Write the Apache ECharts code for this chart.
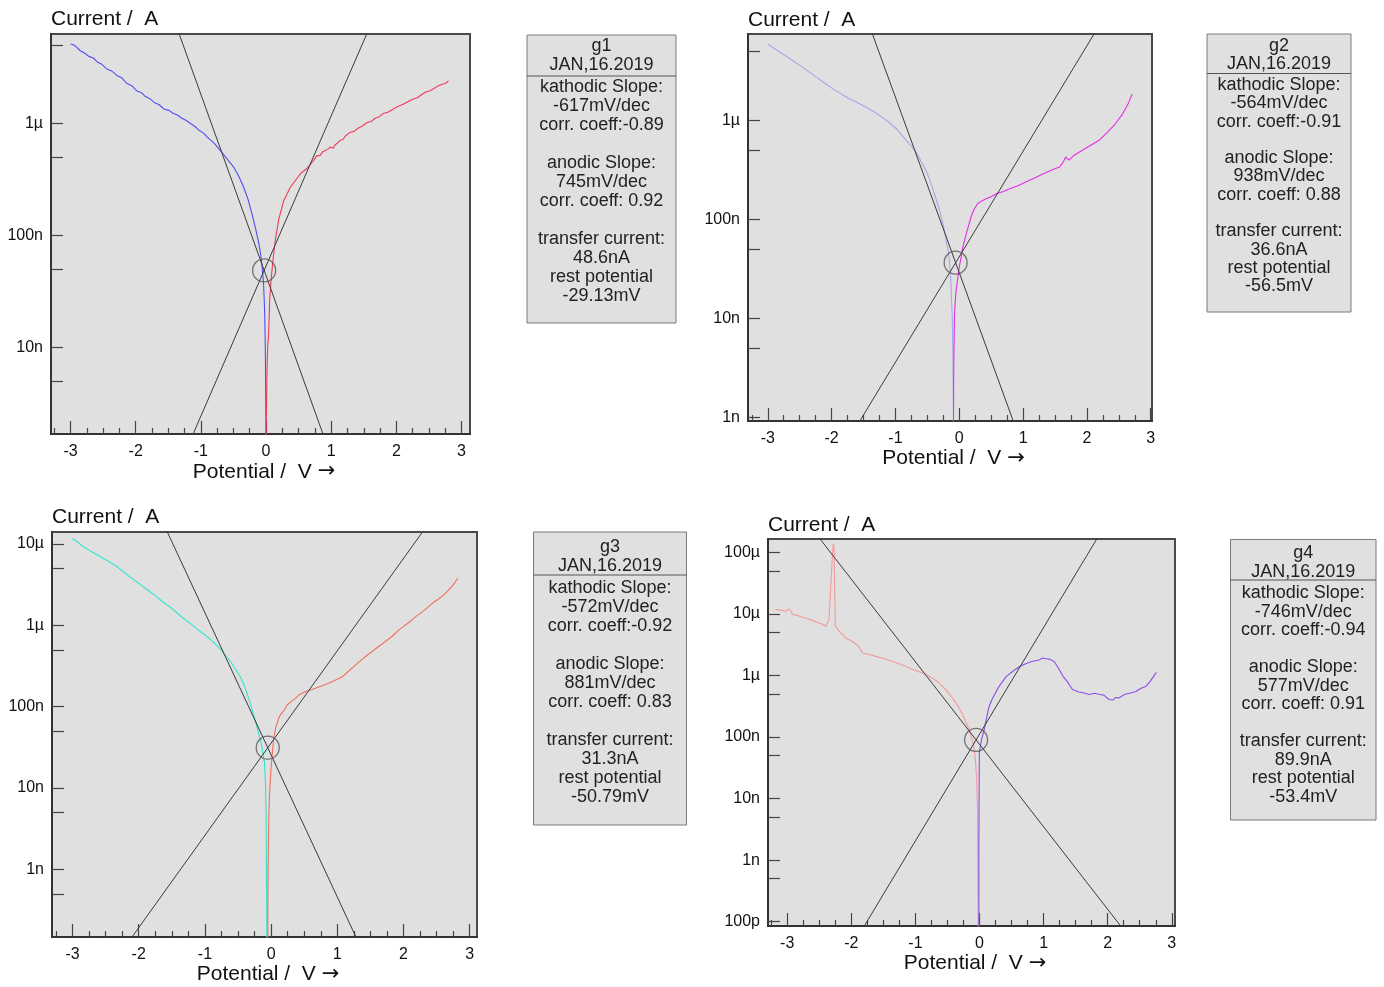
<!DOCTYPE html>
<html><head><meta charset="utf-8">
<script src="https://cdn.jsdelivr.net/npm/echarts@6/dist/echarts.min.js"></script>
<style>html,body{margin:0;padding:0;background:#fff}#c{width:1384px;height:987px}</style>
</head><body><div id="c"></div>
<script>
// ---------- tick labels ----------
const xTickValues = [-3, -2, -1, 0, 1, 2, 3];
const yLabelExponents = [-4, -5, -6, -7, -8, -9, -10];
const yLabelTexts = ['100µ', '10µ', '1µ', '100n', '10n', '1n', '100p'];

// ---------- axis ranges (potential in V, current in A) ----------
const potentialRanges = [[-3.30, 3.13], [-3.31, 3.02], [-3.31, 3.11], [-3.30, 3.05]];
const currentRanges = [[1.675e-9, 6.31e-6], [9.18e-10, 7.50e-6], [1.472e-10, 1.406e-5], [8.51e-11, 1.644e-4]];

// ---------- fit results (rest potential V, transfer current A) ----------
const restPotentials = [-0.02913, -0.0565, -0.05079, -0.0534];
const transferCurrents = [48.6e-9, 36.6e-9, 31.3e-9, 89.9e-9];

// ---------- Tafel lines [potential V, current A] ----------
const g1KathLine = [[-1.456, 1e-5], [1.012, 1e-9]];
const g1AnodLine = [[-1.286, 1e-9], [1.694, 1e-5]];
const g2KathLine = [[-1.431, 1e-5], [1.107, 3.16e-10]];
const g2AnodLine = [[-1.992, 3.16e-10], [2.229, 1e-5]];
const g3KathLine = [[-1.769, 3.16e-5], [1.377, 1e-10]];
const g3AnodLine = [[-2.249, 1e-10], [2.596, 3.16e-5]];
const g4KathLine = [[-2.699, 3.16e-4], [2.523, 3.16e-11]];
const g4AnodLine = [[-2.046, 3.16e-11], [1.993, 3.16e-4]];

// ---------- measured curves [potential V, current A] ----------
const g1Kath = [[-3.00,5.13e-6],[-2.96,5.05e-6],[-2.92,4.90e-6],[-2.85,4.47e-6],[-2.78,4.25e-6],[-2.72,3.98e-6],[-2.65,3.85e-6],[-2.59,3.55e-6],[-2.52,3.38e-6],[-2.45,3.09e-6],[-2.37,2.95e-6],[-2.29,2.69e-6],[-2.21,2.55e-6],[-2.14,2.29e-6],[-2.06,2.18e-6],[-1.98,1.95e-6],[-1.91,1.88e-6],[-1.85,1.74e-6],[-1.78,1.66e-6],[-1.72,1.55e-6],[-1.64,1.47e-6],[-1.57,1.35e-6],[-1.49,1.31e-6],[-1.42,1.23e-6],[-1.36,1.19e-6],[-1.30,1.12e-6],[-1.23,1.07e-6],[-1.16,1.0e-6],[-1.10,9.5e-7],[-1.03,8.71e-7],[-0.96,8.2e-7],[-0.905,7.59e-7],[-0.85,7.1e-7],[-0.79,6.61e-7],[-0.73,6.0e-7],[-0.675,5.50e-7],[-0.58,4.68e-7],[-0.496,4.07e-7],[-0.42,3.39e-7],[-0.343,2.69e-7],[-0.275,2.09e-7],[-0.215,1.55e-7],[-0.16,1.15e-7],[-0.112,8.51e-8],[-0.08,6.61e-8],[-0.061,5.25e-8],[-0.045,4.17e-8],[-0.036,3.47e-8],[-0.025,2.40e-8],[-0.02,1.86e-8],[-0.014,1.26e-8],[-0.010,8.32e-9],[-0.007,5.01e-9],[-0.005,3.39e-9],[-0.002,2.24e-9],[0.0,1.6e-9]];
const g1Anod = [[0.0,1.6e-9],[0.008,3.16e-9],[0.015,6.31e-9],[0.025,1.0e-8],[0.04,1.33e-8],[0.056,2.63e-8],[0.077,3.98e-8],[0.107,6.03e-8],[0.143,9.12e-8],[0.194,1.38e-7],[0.271,2.04e-7],[0.373,2.69e-7],[0.45,3.09e-7],[0.527,3.55e-7],[0.63,3.98e-7],[0.731,4.68e-7],[0.76,4.75e-7],[0.78,5.13e-7],[0.833,5.19e-7],[0.87,5.6e-7],[0.90,5.50e-7],[0.95,5.9e-7],[0.987,6.17e-7],[1.03,6.0e-7],[1.06,6.46e-7],[1.10,6.7e-7],[1.14,7.08e-7],[1.18,7.2e-7],[1.22,7.76e-7],[1.29,8.32e-7],[1.35,8.5e-7],[1.42,9.12e-7],[1.48,9.5e-7],[1.55,1.02e-6],[1.61,1.04e-6],[1.68,1.12e-6],[1.74,1.15e-6],[1.80,1.23e-6],[1.87,1.26e-6],[1.93,1.32e-6],[2.00,1.40e-6],[2.06,1.45e-6],[2.12,1.50e-6],[2.19,1.58e-6],[2.25,1.65e-6],[2.32,1.70e-6],[2.38,1.80e-6],[2.45,1.91e-6],[2.51,1.95e-6],[2.57,2.04e-6],[2.63,2.15e-6],[2.70,2.24e-6],[2.75,2.28e-6],[2.80,2.40e-6]];

const g2Kath = [[-3.00,5.94e-6],[-2.88,5.25e-6],[-2.76,4.68e-6],[-2.63,4.12e-6],[-2.50,3.63e-6],[-2.37,3.16e-6],[-2.24,2.75e-6],[-2.11,2.40e-6],[-1.98,2.09e-6],[-1.85,1.86e-6],[-1.72,1.66e-6],[-1.59,1.51e-6],[-1.46,1.36e-6],[-1.33,1.22e-6],[-1.20,1.07e-6],[-1.10,9.55e-7],[-0.99,8.32e-7],[-0.91,7.24e-7],[-0.83,6.31e-7],[-0.75,5.50e-7],[-0.675,4.79e-7],[-0.60,3.89e-7],[-0.52,3.13e-7],[-0.45,2.40e-7],[-0.39,1.82e-7],[-0.33,1.38e-7],[-0.28,1.05e-7],[-0.24,8.13e-8],[-0.205,6.17e-8],[-0.17,4.68e-8],[-0.15,3.55e-8],[-0.13,2.24e-8],[-0.12,1.51e-8],[-0.11,1.02e-8],[-0.10,4.79e-9],[-0.095,2.0e-9],[-0.09,7.9e-10]];
const g2Anod = [[-0.09,7.9e-10],[-0.088,2.0e-9],[-0.086,3.24e-9],[-0.08,6.31e-9],[-0.076,1.02e-8],[-0.065,1.41e-8],[-0.05,1.91e-8],[-0.025,2.51e-8],[0.0,3.31e-8],[0.03,4.17e-8],[0.055,5.25e-8],[0.11,7.16e-8],[0.185,1.06e-7],[0.23,1.26e-7],[0.29,1.45e-7],[0.36,1.55e-7],[0.42,1.62e-7],[0.50,1.70e-7],[0.58,1.82e-7],[0.68,1.91e-7],[0.79,2.04e-7],[0.92,2.19e-7],[1.05,2.40e-7],[1.18,2.63e-7],[1.31,2.88e-7],[1.45,3.16e-7],[1.57,3.39e-7],[1.62,3.72e-7],[1.67,4.27e-7],[1.72,3.98e-7],[1.80,4.47e-7],[1.93,5.01e-7],[2.06,5.62e-7],[2.19,6.31e-7],[2.32,7.59e-7],[2.45,9.33e-7],[2.56,1.17e-6],[2.64,1.45e-6],[2.71,1.86e-6]];

const g3Kath = [[-3.00,1.17e-5],[-2.92,1.05e-5],[-2.84,9.33e-6],[-2.72,8.13e-6],[-2.59,7.08e-6],[-2.47,6.17e-6],[-2.34,5.37e-6],[-2.14,3.98e-6],[-2.04,3.47e-6],[-1.94,3.02e-6],[-1.84,2.63e-6],[-1.74,2.29e-6],[-1.64,1.95e-6],[-1.535,1.70e-6],[-1.43,1.45e-6],[-1.33,1.23e-6],[-1.20,1.02e-6],[-1.08,8.51e-7],[-0.98,7.41e-7],[-0.88,6.31e-7],[-0.78,5.25e-7],[-0.68,4.17e-7],[-0.60,3.47e-7],[-0.53,2.85e-7],[-0.46,2.29e-7],[-0.40,1.78e-7],[-0.35,1.35e-7],[-0.30,1.0e-7],[-0.23,6.31e-8],[-0.15,3.55e-8],[-0.10,2.04e-8],[-0.085,1.15e-8],[-0.075,4.47e-9],[-0.07,1.10e-9],[-0.065,1.41e-10]];
const g3Anod = [[-0.05,1.41e-10],[-0.048,5.0e-10],[-0.045,1.10e-9],[-0.035,4.47e-9],[-0.025,7.94e-9],[-0.015,1.15e-8],[0.0,1.78e-8],[0.015,2.45e-8],[0.035,3.89e-8],[0.055,4.79e-8],[0.075,5.75e-8],[0.10,6.61e-8],[0.126,7.59e-8],[0.16,8.32e-8],[0.20,9.12e-8],[0.24,1.05e-7],[0.277,1.11e-7],[0.31,1.17e-7],[0.35,1.23e-7],[0.43,1.41e-7],[0.53,1.55e-7],[0.60,1.60e-7],[0.68,1.70e-7],[0.78,1.82e-7],[0.88,1.95e-7],[0.98,2.14e-7],[1.08,2.34e-7],[1.16,2.69e-7],[1.23,3.02e-7],[1.33,3.55e-7],[1.43,4.17e-7],[1.56,5.01e-7],[1.69,6.03e-7],[1.82,7.24e-7],[1.94,8.91e-7],[2.07,1.07e-6],[2.19,1.29e-6],[2.32,1.55e-6],[2.44,1.88e-6],[2.54,2.14e-6],[2.64,2.51e-6],[2.72,2.95e-6],[2.77,3.31e-6],[2.82,3.80e-6]];

const g4Kath = [[-3.18,1.17e-5],[-3.10,1.15e-5],[-3.02,1.10e-5],[-2.98,1.20e-5],[-2.945,1.12e-5],[-2.92,9.77e-6],[-2.85,9.55e-6],[-2.78,8.91e-6],[-2.71,8.51e-6],[-2.60,7.76e-6],[-2.50,7.08e-6],[-2.45,6.76e-6],[-2.42,7.24e-6],[-2.40,6.31e-6],[-2.37,6.31e-6],[-2.35,7.94e-6],[-2.32,2.82e-5],[-2.29,1.10e-4],[-2.28,1.38e-4],[-2.27,1.26e-4],[-2.26,2.51e-5],[-2.25,6.31e-6],[-2.17,5.01e-6],[-2.09,4.07e-6],[-1.98,3.55e-6],[-1.88,2.95e-6],[-1.83,2.34e-6],[-1.72,2.19e-6],[-1.62,2.04e-6],[-1.49,1.86e-6],[-1.36,1.70e-6],[-1.20,1.48e-6],[-1.05,1.26e-6],[-0.84,1.05e-6],[-0.73,8.91e-7],[-0.63,7.59e-7],[-0.52,5.75e-7],[-0.42,4.32e-7],[-0.34,3.24e-7],[-0.265,2.32e-7],[-0.16,1.32e-7],[-0.10,8.04e-8],[-0.068,4.90e-8],[-0.047,2.29e-8],[-0.031,6.61e-9],[-0.026,5.50e-10],[-0.02,7.9e-11]];
const g4Anod = [[-0.01,7.9e-11],[-0.01,1.91e-9],[-0.005,2.29e-8],[-0.003,5.62e-8],[0.03,8.91e-8],[0.073,1.32e-7],[0.11,2.04e-7],[0.15,3.13e-7],[0.20,4.17e-7],[0.26,5.50e-7],[0.33,7.24e-7],[0.416,9.55e-7],[0.52,1.17e-6],[0.62,1.38e-6],[0.72,1.55e-6],[0.82,1.68e-6],[0.93,1.78e-6],[0.98,1.91e-6],[1.04,1.86e-6],[1.10,1.82e-6],[1.165,1.68e-6],[1.23,1.32e-6],[1.30,9.77e-7],[1.37,7.94e-7],[1.45,5.89e-7],[1.55,5.37e-7],[1.65,5.13e-7],[1.71,4.90e-7],[1.80,5.13e-7],[1.87,4.90e-7],[1.94,4.79e-7],[2.02,4.07e-7],[2.08,3.98e-7],[2.12,4.37e-7],[2.18,4.32e-7],[2.26,4.90e-7],[2.34,5.13e-7],[2.44,5.50e-7],[2.52,6.17e-7],[2.60,6.68e-7],[2.66,7.94e-7],[2.70,9.12e-7],[2.76,1.12e-6]];

// ---------- info box texts ----------
const g1Info = ['g1','JAN,16.2019','kathodic Slope:','-617mV/dec','corr. coeff:-0.89','','anodic Slope:','745mV/dec','corr. coeff: 0.92','','transfer current:','48.6nA','rest potential','-29.13mV'];
const g2Info = ['g2','JAN,16.2019','kathodic Slope:','-564mV/dec','corr. coeff:-0.91','','anodic Slope:','938mV/dec','corr. coeff: 0.88','','transfer current:','36.6nA','rest potential','-56.5mV'];
const g3Info = ['g3','JAN,16.2019','kathodic Slope:','-572mV/dec','corr. coeff:-0.92','','anodic Slope:','881mV/dec','corr. coeff: 0.83','','transfer current:','31.3nA','rest potential','-50.79mV'];
const g4Info = ['g4','JAN,16.2019','kathodic Slope:','-746mV/dec','corr. coeff:-0.94','','anodic Slope:','577mV/dec','corr. coeff: 0.91','','transfer current:','89.9nA','rest potential','-53.4mV'];

// ---------- layout / style (not data) ----------
const FONT = '"Liberation Sans", Arial, sans-serif';
const gridBoxes = [
  {left: 51, top: 34, width: 419, height: 400, nameGapX: 38, nameGapY: 15},
  {left: 748, top: 34, width: 404, height: 387, nameGapX: 34, nameGapY: 14},
  {left: 52, top: 532, width: 425, height: 405, nameGapX: 36, nameGapY: 15},
  {left: 768, top: 539, width: 407, height: 387, nameGapX: 37, nameGapY: 14}
];
const infoBoxes = [
  {x: 527, y: 35, w: 149, h: 288, sep: 76, t1: 46, t2: 65.5, b0: 86.7, step: 19.05},
  {x: 1207, y: 34, w: 144, h: 278, sep: 73.5, t1: 46.5, t2: 64, b0: 85, step: 18.3},
  {x: 533.5, y: 532, w: 153, h: 293, sep: 575, t1: 547.5, t2: 566.5, b0: 587.7, step: 19.0},
  {x: 1230.5, y: 539.5, w: 145.5, h: 280.5, sep: 580, t1: 553.5, t2: 572.5, b0: 593.3, step: 18.5}
];
const curveColors = [
  ['#4f4ff2', '#f03a58'],
  ['#a6a6ea', '#e42ee4'],
  ['#2ee6cc', '#f2705e'],
  ['#f49a9a', '#8c4fe6']
];

const kathCurves = [g1Kath, g2Kath, g3Kath, g4Kath];
const anodCurves = [g1Anod, g2Anod, g3Anod, g4Anod];
const kathLines = [g1KathLine, g2KathLine, g3KathLine, g4KathLine];
const anodLines = [g1AnodLine, g2AnodLine, g3AnodLine, g4AnodLine];
const infos = [g1Info, g2Info, g3Info, g4Info];

const toLog = arr => arr.map(p => [p[0], Math.log10(p[1])]);
const labelFor = v => {
  const k = yLabelExponents.indexOf(Math.round(v));
  return k >= 0 ? yLabelTexts[k] : '';
};

const grids = [], xAxes = [], yAxes = [], series = [];
gridBoxes.forEach((g, i) => {
  grids.push({left: g.left, top: g.top, width: g.width, height: g.height, show: true,
    backgroundColor: '#e0e0e0', borderColor: '#4a4a4a', borderWidth: 2, containLabel: false});
  const [xmin, xmax] = potentialRanges[i];
  const ymin = Math.log10(currentRanges[i][0]);
  const ymax = Math.log10(currentRanges[i][1]);
  const minor = [];
  for (let v = -3.5; v <= 3.5; v += 0.25) {
    if (Math.abs(v - Math.round(v)) > 1e-6 && v >= xmin && v <= xmax) minor.push(v);
  }
  const yTicks = [], yLabels = [];
  for (let e = -11; e <= -3; e++) {
    if (e >= ymin && e <= ymax) { yTicks.push(e); yLabels.push(e); }
    const f = e + Math.log10(5);
    if (f >= ymin && f <= ymax) yTicks.push(f);
  }
  xAxes.push({
    type: 'value', gridIndex: i, min: xmin, max: xmax, position: 'bottom',
    axisLine: {show: true, onZero: false, lineStyle: {color: '#333', width: 2}},
    axisTick: {show: true, inside: true, length: 13, customValues: xTickValues, lineStyle: {color: '#444', width: 1.2}},
    axisLabel: {show: true, customValues: xTickValues, margin: 10, fontSize: 16, color: '#111', fontFamily: FONT},
    splitLine: {show: false},
    name: 'Potential /  V {a|→}', nameLocation: 'middle', nameGap: g.nameGapX,
    nameTextStyle: {fontSize: 21, color: '#111', fontFamily: FONT, verticalAlign: 'middle', padding: [0, 0, 0, 7],
      rich: {a: {fontSize: 21, color: '#111', fontFamily: '"DejaVu Sans", sans-serif'}}}
  });
  xAxes.push({
    type: 'value', gridIndex: i, min: xmin, max: xmax, position: 'bottom',
    axisLine: {show: false, onZero: false},
    axisTick: {show: true, inside: true, length: 6, customValues: minor, lineStyle: {color: '#444', width: 1.2}},
    axisLabel: {show: false}, splitLine: {show: false}
  });
  yAxes.push({
    type: 'value', gridIndex: i, min: ymin, max: ymax, position: 'left',
    axisLine: {show: true, onZero: false, lineStyle: {color: '#333', width: 2}},
    axisTick: {show: true, inside: true, length: 12, customValues: yTicks, lineStyle: {color: '#444', width: 1.2}},
    axisLabel: {show: true, customValues: yLabels, formatter: labelFor, margin: 8, fontSize: 16, color: '#111', fontFamily: FONT},
    splitLine: {show: false},
    name: 'Current /  A', nameLocation: 'end', nameGap: g.nameGapY,
    nameTextStyle: {fontSize: 21, color: '#111', fontFamily: FONT, align: 'left', verticalAlign: 'middle'}
  });
  const common = {type: 'line', xAxisIndex: 2 * i, yAxisIndex: i, showSymbol: false, symbol: 'none', clip: true, silent: true};
  series.push(Object.assign({}, common, {data: toLog(kathCurves[i]), lineStyle: {color: curveColors[i][0], width: 1.1}, z: 3}));
  series.push(Object.assign({}, common, {data: toLog(anodCurves[i]), lineStyle: {color: curveColors[i][1], width: 1.1}, z: 3}));
  series.push(Object.assign({}, common, {data: toLog(kathLines[i]), lineStyle: {color: '#3a3a3a', width: 1}, z: 4}));
  series.push(Object.assign({}, common, {data: toLog(anodLines[i]), lineStyle: {color: '#3a3a3a', width: 1}, z: 4}));
  series.push({type: 'scatter', xAxisIndex: 2 * i, yAxisIndex: i, silent: true, z: 5,
    data: [[restPotentials[i], Math.log10(transferCurrents[i])]],
    symbol: 'circle', symbolSize: 23,
    itemStyle: {color: 'rgba(0,0,0,0)', borderColor: '#555', borderWidth: 1.3}});
});

const graphics = infoBoxes.map((b, i) => {
  const cx = b.x + b.w / 2;
  const lines = infos[i];
  const children = [
    {type: 'rect', shape: {x: b.x, y: b.y, width: b.w, height: b.h}, style: {fill: '#e0e0e0', stroke: '#7a7a7a', lineWidth: 1}},
    {type: 'line', shape: {x1: b.x, y1: b.sep, x2: b.x + b.w, y2: b.sep}, style: {stroke: '#555', lineWidth: 1}}
  ];
  lines.forEach((t, k) => {
    if (!t) return;
    const y = k === 0 ? b.t1 : k === 1 ? b.t2 : b.b0 + (k - 2) * b.step;
    children.push({type: 'text', x: cx, y: y,
      style: {text: t, fill: '#222', fontSize: 18, fontFamily: FONT, align: 'center', verticalAlign: 'middle'}});
  });
  return {type: 'group', children};
});

const chart = echarts.init(document.getElementById('c'), null, {renderer: 'canvas'});
chart.setOption({
  animation: false,
  backgroundColor: '#ffffff',
  textStyle: {fontFamily: FONT},
  grid: grids, xAxis: xAxes, yAxis: yAxes, series: series, graphic: graphics
});
</script></body></html>
